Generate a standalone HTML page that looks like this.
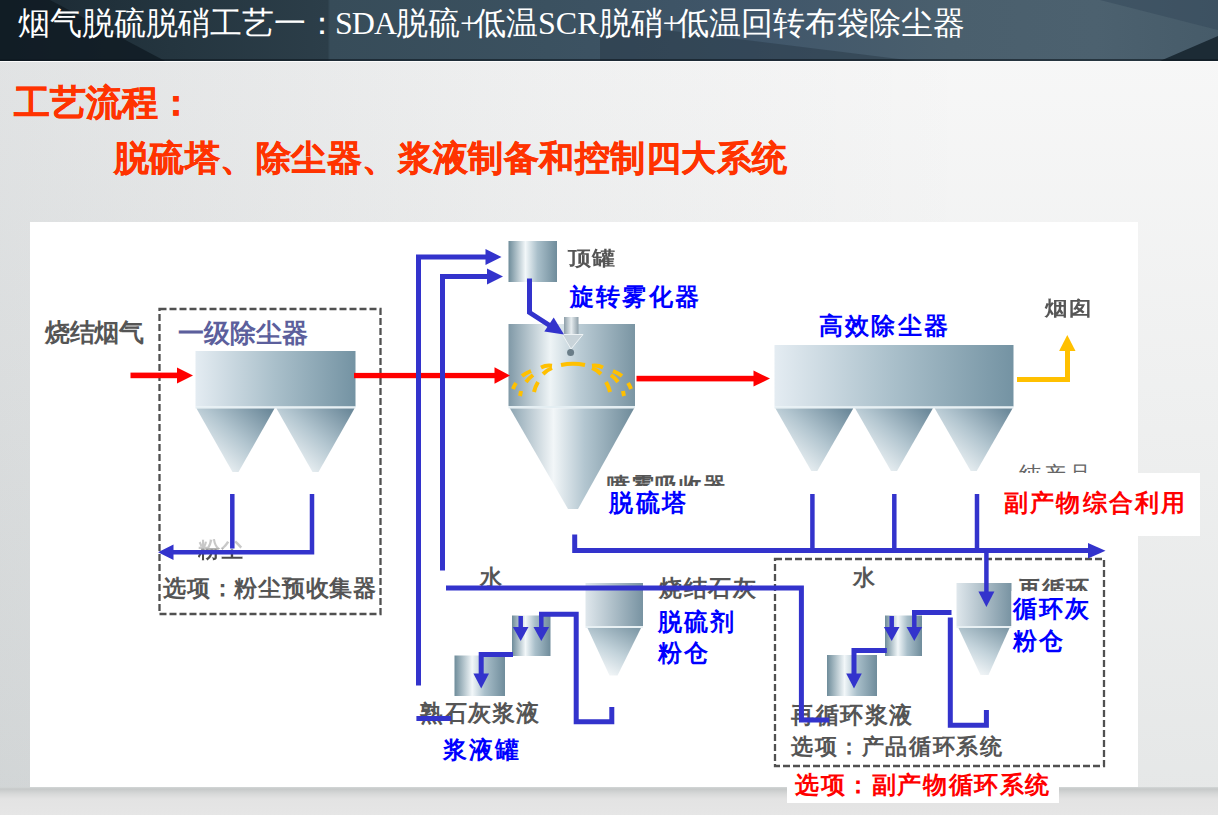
<!DOCTYPE html>
<html><head><meta charset="utf-8">
<style>
html,body{margin:0;padding:0;}
body{width:1218px;height:815px;overflow:hidden;position:relative;font-family:"Liberation Sans",sans-serif;
background:linear-gradient(to right,rgba(10,30,40,0.09),rgba(10,30,40,0.03) 45%,rgba(0,0,0,0) 80%),linear-gradient(to bottom,#f8f8f8 0%,#e5e7e7 100%);}
.hdr{position:absolute;left:0;top:0;width:1218px;height:61px;overflow:hidden;
background:linear-gradient(90deg,#1a2832 0%,#24353f 14%,#2c3e49 26.9%,#374c59 27.1%,#3b5160 45%,#40566a 62%,#4a5f6d 78%,#4c616f 90%,#465b69 100%);}
.title{position:absolute;left:18px;top:3px;color:#fff;font-family:"Liberation Serif",serif;font-size:32px;line-height:40px;white-space:nowrap;}
.t1{position:absolute;left:14px;top:80px;color:#ff3300;font-weight:bold;font-size:36px;line-height:46px;white-space:nowrap;-webkit-text-stroke:0.5px #ff3300;}
.t2{position:absolute;left:114px;top:135px;color:#ff3300;font-weight:bold;font-size:35px;line-height:46px;letter-spacing:0.45px;white-space:nowrap;-webkit-text-stroke:0.5px #ff3300;}
.foot{position:absolute;left:0;top:787px;width:1218px;height:28px;background:linear-gradient(180deg,#d3d7d7 0px,#c6c9c9 2px,#d8d9d9 7px,#e3e3e3 12px,#e6e6e6 100%);}
.box{position:absolute;left:30px;top:222px;width:1108px;height:565px;background:#fff;}
.lbl{position:absolute;white-space:nowrap;line-height:1;}
.g{color:#555555;font-weight:bold;}
.b{color:#0000ff;font-weight:bold;}
.r{color:#ff0000;font-weight:bold;}
svg{position:absolute;left:0;top:0;}
.ov{z-index:2}
.hid{position:absolute;left:0;top:0;z-index:1}
.top{position:absolute;left:0;top:0;z-index:3}
</style></head><body>
<div class="hdr">
<svg width="1218" height="61">
<polygon points="0,0 50,0 165,61 0,61" fill="#0f1a22" opacity="0.75"/>

<polygon points="600,22 915,61 600,61" fill="#22333e" opacity="0.4"/>
<polygon points="1100,0 1218,0 1218,30" fill="#33475a" opacity="0.5"/>
<polygon points="1160,61 1218,36 1218,61" fill="#1c2b35"/>
<rect x="0" y="59" width="1218" height="2" fill="#0e1820" opacity="0.6"/>
</svg>
<div class="title">烟气脱硫脱硝工艺一<span style="letter-spacing:-3px">：</span><span style="letter-spacing:-1px">SDA</span>脱硫<span style="letter-spacing:-4px">+</span>低温SCR脱硝<span style="letter-spacing:-4px">+</span>低温回转布袋除尘器</div>
</div>
<div class="t1">工艺流程：</div>
<div class="t2">脱硫塔、除尘器、浆液制备和控制四大系统</div>
<div class="foot"></div><div style="position:absolute;left:0;top:61px;width:1218px;height:1px;background:#fbfbfb"></div>
<div class="box"></div>
<svg width="1218" height="815">

<defs>
<linearGradient id="gBox" x1="0" y1="0" x2="1" y2="0">
 <stop offset="0" stop-color="#e4ecf2"/><stop offset="0.5" stop-color="#a9bfca"/><stop offset="1" stop-color="#7493a3"/>
</linearGradient>
<linearGradient id="gCone" x1="1" y1="0.1" x2="0.15" y2="0.9">
 <stop offset="0" stop-color="#6d8a9b"/><stop offset="0.5" stop-color="#b3c6d0"/><stop offset="1" stop-color="#f7fafb"/>
</linearGradient>
<linearGradient id="gCyl" x1="0" y1="0" x2="1" y2="0">
 <stop offset="0" stop-color="#7f9aa8"/><stop offset="0.3" stop-color="#e9f0f3"/><stop offset="0.45" stop-color="#c7d6de"/><stop offset="1" stop-color="#7893a2"/>
</linearGradient>
<linearGradient id="gTank" x1="0" y1="0" x2="1" y2="0">
 <stop offset="0" stop-color="#6e8c9a"/><stop offset="0.35" stop-color="#f2f7f9"/><stop offset="0.6" stop-color="#a9bfca"/><stop offset="1" stop-color="#6f8c9b"/>
</linearGradient>
<linearGradient id="gTower" x1="0" y1="0" x2="1" y2="0">
 <stop offset="0" stop-color="#8099a7"/><stop offset="0.33" stop-color="#eef4f6"/><stop offset="0.55" stop-color="#bccdd6"/><stop offset="1" stop-color="#7a95a3"/>
</linearGradient>
<linearGradient id="gTowerCone" x1="0" y1="0" x2="1" y2="0">
 <stop offset="0" stop-color="#8ea6b3"/><stop offset="0.35" stop-color="#f2f6f8"/><stop offset="0.6" stop-color="#b3c6d0"/><stop offset="1" stop-color="#6f8b9a"/>
</linearGradient>
<linearGradient id="gSilo" x1="0" y1="0" x2="1" y2="0">
 <stop offset="0" stop-color="#dfe7ec"/><stop offset="1" stop-color="#7893a2"/>
</linearGradient>
<linearGradient id="gSiloCone" x1="0.9" y1="0" x2="0.3" y2="1">
 <stop offset="0" stop-color="#7f99a7"/><stop offset="0.55" stop-color="#c3d3db"/><stop offset="1" stop-color="#f8fafb"/>
</linearGradient>
<linearGradient id="gNoz" x1="0" y1="0" x2="1" y2="0">
 <stop offset="0" stop-color="#8d9ea8"/><stop offset="0.5" stop-color="#e7edf0"/><stop offset="1" stop-color="#8d9ea8"/>
</linearGradient>
</defs>
<rect x="195.5" y="351" width="160.0" height="55.5" fill="url(#gBox)"/>
<rect x="195.5" y="406.5" width="160.0" height="2" fill="#e6f0f4"/>
<polygon points="196.5,408.5 274.5,408.5 238.5,472 232.5,472" fill="url(#gCone)"/>
<polygon points="276.5,408.5 354.5,408.5 318.5,472 312.5,472" fill="url(#gCone)"/>
<rect x="774.5" y="345" width="239.0" height="61.5" fill="url(#gBox)"/>
<rect x="774.5" y="406.5" width="239.0" height="2" fill="#e6f0f4"/>
<polygon points="775.5,408.5 853.2,408.5 817.3,471 811.3,471" fill="url(#gCone)"/>
<polygon points="855.2,408.5 932.8,408.5 897.0,471 891.0,471" fill="url(#gCone)"/>
<polygon points="934.8,408.5 1012.5,408.5 976.7,471 970.7,471" fill="url(#gCone)"/>
<rect x="508.5" y="324" width="126.5" height="82" fill="url(#gTower)"/>
<rect x="508.5" y="406" width="126.5" height="2.5" fill="#e4eef2"/>
<polygon points="510,408.5 634,408.5 578,509 568,509" fill="url(#gTowerCone)"/>
<rect x="564" y="317" width="14.5" height="18" fill="url(#gNoz)"/>
<polygon points="562.5,334.5 583,334.5 571,349" fill="#c8d3d9" stroke="#eef3f5" stroke-width="1"/>
<circle cx="570.6" cy="352.6" r="3.5" fill="#6a7d88"/>
<rect x="508.5" y="241" width="48.5" height="41" fill="url(#gTank)"/>
<rect x="512" y="615.5" width="38.5" height="40.5" fill="url(#gTank)"/>
<rect x="454.5" y="655.5" width="50.5" height="40.5" fill="url(#gTank)"/>
<rect x="885" y="615.5" width="37" height="40.5" fill="url(#gTank)"/>
<rect x="827" y="655" width="50" height="41" fill="url(#gTank)"/>
<rect x="585.5" y="583" width="57.5" height="43" fill="url(#gSilo)"/>
<rect x="585.5" y="626" width="57.5" height="2" fill="#e8f0f3"/>
<polygon points="587.5,628 641,628 617.5,675.5 609.5,675.5" fill="url(#gSiloCone)"/>
<rect x="956.5" y="583" width="55.0" height="43" fill="url(#gSilo)"/>
<rect x="956.5" y="626" width="55.0" height="2" fill="#e8f0f3"/>
<polygon points="958.5,628 1009.5,628 988.5,675 980.5,675" fill="url(#gSiloCone)"/>
<rect x="159.5" y="309" width="221" height="305" fill="none" stroke="#505050" stroke-width="2.3" stroke-dasharray="7,3"/>
<rect x="775" y="559" width="329" height="207" fill="none" stroke="#505050" stroke-width="2.3" stroke-dasharray="7,3"/>
<rect x="130.5" y="372.6" width="47" height="5.6" fill="#ff0000"/>
<polygon points="193.0,375.4 177.0,383.4 177.0,367.4" fill="#ff0000"/>
<rect x="354" y="372.9" width="141" height="5.3" fill="#ff0000"/>
<polygon points="510.0,375.5 494.5,383.7 494.5,367.3" fill="#ff0000"/>
<rect x="636.5" y="375.8" width="117.5" height="5.6" fill="#ff0000"/>
<polygon points="770.0,378.6 753.5,386.6 753.5,370.6" fill="#ff0000"/>
<path d="M1017,379.5 L1067.5,379.5 L1067.5,350" fill="none" stroke="#ffc000" stroke-width="5"/>
<polygon points="1067.3,335.0 1075.5,351.0 1059.1,351.0" fill="#ffc000"/>
<path d="M561,365 Q573,362.5 585,365" fill="none" stroke="#ffc000" stroke-width="4"/>
<path d="M541,367.5 Q546,365 552,365.8" fill="none" stroke="#ffc000" stroke-width="4"/>
<path d="M603,367.5 Q598,365 592,365.8" fill="none" stroke="#ffc000" stroke-width="4"/>
<path d="M543,374 Q547,370 552,368" fill="none" stroke="#ffc000" stroke-width="4"/>
<path d="M601,374 Q597,370 592,368" fill="none" stroke="#ffc000" stroke-width="4"/>
<path d="M522,376 Q526,373 531,371" fill="none" stroke="#ffc000" stroke-width="4"/>
<path d="M622,376 Q618,373 613,371" fill="none" stroke="#ffc000" stroke-width="4"/>
<path d="M526,382 Q529,378 533,375" fill="none" stroke="#ffc000" stroke-width="4"/>
<path d="M618,382 Q615,378 611,375" fill="none" stroke="#ffc000" stroke-width="4"/>
<path d="M534,392 Q535,387 538,382" fill="none" stroke="#ffc000" stroke-width="4"/>
<path d="M610,392 Q609,387 606,382" fill="none" stroke="#ffc000" stroke-width="4"/>
<path d="M513,389 Q514,386 516,383" fill="none" stroke="#ffc000" stroke-width="4"/>
<path d="M631,389 Q630,386 628,383" fill="none" stroke="#ffc000" stroke-width="4"/>
<path d="M520,396 Q520.5,394 521,391" fill="none" stroke="#ffc000" stroke-width="4"/>
<path d="M624,396 Q623.5,394 623,391" fill="none" stroke="#ffc000" stroke-width="4"/>
</svg>
<div class="hid">

<div class="lbl g" style="left:198px;top:539px;font-size:22px;letter-spacing:1px;color:transparent;background:linear-gradient(to bottom,#c8c8c8 0%,#c8c8c8 40%,#4a4a4a 60%,#4a4a4a 100%);-webkit-background-clip:text;background-clip:text">粉尘</div>
<div class="lbl g" style="left:607px;top:475px;font-size:23px;letter-spacing:1px;color:#555">喷雾吸收器</div>
<div class="lbl g" style="left:1019px;top:464px;font-size:22px;letter-spacing:3px;color:#666;font-weight:normal">纯产品</div>
<div class="lbl g" style="left:1018px;top:578px;font-size:23px;letter-spacing:1px;color:#555">再循环</div>
<div class="lbl g" style="left:45px;top:320px;font-size:25px;letter-spacing:-0.5px">烧结烟气</div>
<div class="lbl g" style="left:163px;top:577px;font-size:23px;letter-spacing:0.75px">选项：粉尘预收集器</div>
<div class="lbl g" style="left:568px;top:248px;font-size:20px;letter-spacing:1px;transform:scaleX(1.15);transform-origin:0 0">顶罐</div>
<div class="lbl g" style="left:1045px;top:298px;font-size:20px;letter-spacing:1px;transform:scaleX(1.12);transform-origin:0 0">烟囱</div>
<div class="lbl g" style="left:480px;top:567px;font-size:22px">水</div>
<div class="lbl g" style="left:853px;top:567px;font-size:22px">水</div>
<div class="lbl g" style="left:659px;top:577px;font-size:23px;letter-spacing:1.5px">烧结石灰</div>
<div class="lbl g" style="left:420px;top:702px;font-size:23px;letter-spacing:1px">熟石灰浆液</div>
<div class="lbl g" style="left:791px;top:704px;font-size:23px;letter-spacing:1.5px">再循环浆液</div>
<div class="lbl g" style="left:791px;top:736px;font-size:22px;letter-spacing:1.6px">选项：产品循环系统</div>
</div>
<svg width="1218" height="815" class="ov">
<rect x="987" y="473" width="213" height="63" fill="#fff"/>
<rect x="787" y="769" width="72" height="34" fill="#fff"/>
<rect x="787" y="769" width="272" height="34" fill="#fff"/>
<rect x="606" y="486" width="122" height="34" fill="#fff"/>
<rect x="1011.5" y="591" width="84" height="66" fill="#fff"/>
<path d="M418.5,685.5 L418.5,256.9 L486,256.9" fill="none" stroke="#3333cc" stroke-width="5" stroke-linejoin="miter" stroke-linecap="butt"/>
<polygon points="501.5,257.0 485.5,265.0 485.5,249.0" fill="#3333cc"/>
<path d="M442.5,570.5 L442.5,276.5 L488,276.5" fill="none" stroke="#3333cc" stroke-width="5" stroke-linejoin="miter" stroke-linecap="butt"/>
<polygon points="503.0,276.5 487.0,284.5 487.0,268.5" fill="#3333cc"/>
<path d="M529.5,278.5 L529.5,312.5 L552,327" fill="none" stroke="#3333cc" stroke-width="5" stroke-linejoin="miter" stroke-linecap="butt"/>
<polygon points="564.0,334.5 544.3,331.6 553.7,317.4" fill="#3333cc"/>
<path d="M232.3,494 L232.3,548.5" fill="none" stroke="#3333cc" stroke-width="4.5" stroke-linejoin="miter" stroke-linecap="butt"/>
<path d="M312,494 L312,552.3 L172,552.3" fill="none" stroke="#3333cc" stroke-width="4.5" stroke-linejoin="miter" stroke-linecap="butt"/>
<polygon points="158.0,552.3 173.5,544.5 173.5,560.1" fill="#3333cc"/>
<path d="M574.7,534.5 L574.7,550.5 L1089,550.5" fill="none" stroke="#3333cc" stroke-width="5" stroke-linejoin="miter" stroke-linecap="butt"/>
<polygon points="1105.5,550.8 1088.0,558.6 1088.0,543.0" fill="#3333cc"/>
<path d="M812.4,494 L812.4,550" fill="none" stroke="#3333cc" stroke-width="4.5" stroke-linejoin="miter" stroke-linecap="butt"/>
<path d="M894.3,494 L894.3,550" fill="none" stroke="#3333cc" stroke-width="4.5" stroke-linejoin="miter" stroke-linecap="butt"/>
<path d="M977,494 L977,550" fill="none" stroke="#3333cc" stroke-width="4.5" stroke-linejoin="miter" stroke-linecap="butt"/>
<path d="M986.4,550 L986.4,592" fill="none" stroke="#3333cc" stroke-width="4.5" stroke-linejoin="miter" stroke-linecap="butt"/>
<polygon points="986.4,607.0 978.4,591.5 994.4,591.5" fill="#3333cc"/>
<path d="M446,588 L801.4,588 L801.4,720 L829,720" fill="none" stroke="#3333cc" stroke-width="5" stroke-linejoin="miter" stroke-linecap="butt"/>
<path d="M416.4,718.5 L451,718.5" fill="none" stroke="#3333cc" stroke-width="5" stroke-linejoin="miter" stroke-linecap="butt"/>
<path d="M520.7,616 L520.7,628" fill="none" stroke="#3333cc" stroke-width="4.5" stroke-linejoin="miter" stroke-linecap="butt"/>
<polygon points="520.7,641.0 512.9,627.0 528.5,627.0" fill="#3333cc"/>
<path d="M541.3,612 L541.3,628" fill="none" stroke="#3333cc" stroke-width="4.5" stroke-linejoin="miter" stroke-linecap="butt"/>
<polygon points="541.3,641.0 533.5,627.0 549.1,627.0" fill="#3333cc"/>
<path d="M539,614.2 L576.2,614.2 L576.2,721.7 L611.8,721.7 L611.8,707" fill="none" stroke="#3333cc" stroke-width="5" stroke-linejoin="miter" stroke-linecap="butt"/>
<path d="M513,654.4 L481.2,654.4 L481.2,674" fill="none" stroke="#3333cc" stroke-width="5" stroke-linejoin="miter" stroke-linecap="butt"/>
<polygon points="481.2,688.5 473.4,673.5 489.0,673.5" fill="#3333cc"/>
<path d="M891.7,616 L891.7,628" fill="none" stroke="#3333cc" stroke-width="4.5" stroke-linejoin="miter" stroke-linecap="butt"/>
<polygon points="891.7,641.0 883.9,627.0 899.5,627.0" fill="#3333cc"/>
<path d="M914.3,612 L914.3,628" fill="none" stroke="#3333cc" stroke-width="4.5" stroke-linejoin="miter" stroke-linecap="butt"/>
<polygon points="914.3,641.0 906.5,627.0 922.1,627.0" fill="#3333cc"/>
<path d="M912,612.6 L951.5,612.6" fill="none" stroke="#3333cc" stroke-width="5" stroke-linejoin="miter" stroke-linecap="butt"/>
<path d="M950.3,617.5 L950.3,725.2 L986.4,725.2 L986.4,710" fill="none" stroke="#3333cc" stroke-width="5" stroke-linejoin="miter" stroke-linecap="butt"/>
<path d="M886.8,650.5 L854,650.5 L854,674" fill="none" stroke="#3333cc" stroke-width="5" stroke-linejoin="miter" stroke-linecap="butt"/>
<polygon points="854.0,688.5 846.2,673.5 861.8,673.5" fill="#3333cc"/>
</svg>
<div class="top">
<div class="lbl" style="left:178px;top:320px;font-size:26px;color:#5c5f9c;font-weight:bold">一级除尘器</div>
<div class="lbl b" style="left:570px;top:285px;font-size:24px;letter-spacing:2.2px">旋转雾化器</div>
<div class="lbl b" style="left:609px;top:491px;font-size:24px;letter-spacing:2.5px">脱硫塔</div>
<div class="lbl b" style="left:819px;top:314px;font-size:24px;letter-spacing:2.2px">高效除尘器</div>
<div class="lbl r" style="left:1004px;top:491px;font-size:24px;letter-spacing:2.2px">副产物综合利用</div>
<div class="lbl b" style="left:658px;top:607px;font-size:24px;letter-spacing:2px;line-height:30.5px">脱硫剂<br>粉仓</div>
<div class="lbl b" style="left:1013px;top:593px;font-size:24px;letter-spacing:2px;line-height:32px">循环灰<br>粉仓</div>
<div class="lbl b" style="left:443px;top:738px;font-size:24px;letter-spacing:2.2px">浆液罐</div>
<div class="lbl r" style="left:795px;top:773px;font-size:24px;letter-spacing:1.6px">选项：副产物循环系统</div>
</div>
</body></html>
